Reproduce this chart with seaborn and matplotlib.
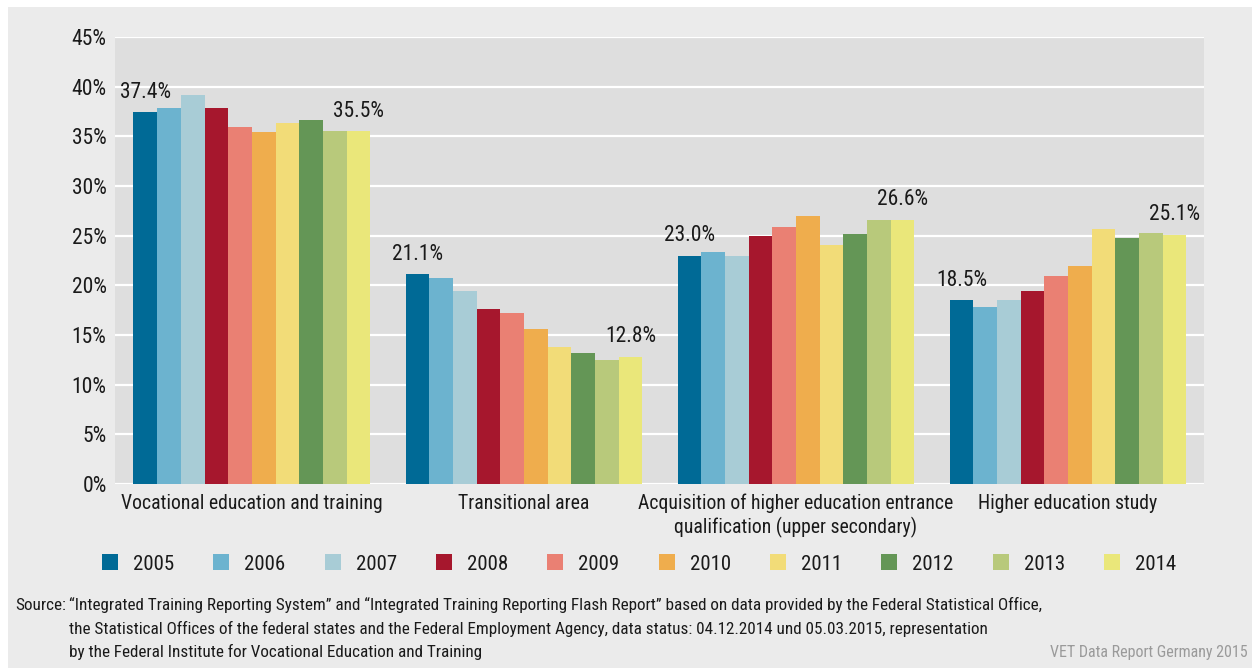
import pandas as pd
import seaborn as sns
import matplotlib.pyplot as plt
from matplotlib.patches import Rectangle

# shares of newcomers per sector, 2005-2014 (%)
years = ['2005', '2006', '2007', '2008', '2009', '2010', '2011', '2012', '2013', '2014']
areas = ['Vocational education and training',
         'Transitional area',
         'Acquisition of higher education entrance\nqualification (upper secondary)',
         'Higher education study']
vet = [37.4, 37.9, 39.2, 37.9, 35.9, 35.4, 36.3, 36.6, 35.5, 35.5]
transitional = [21.1, 20.7, 19.4, 17.6, 17.2, 15.6, 13.8, 13.2, 12.5, 12.8]
entrance_qual = [23.0, 23.4, 23.0, 25.0, 25.9, 27.0, 24.1, 25.2, 26.6, 26.6]
higher_study = [18.5, 17.8, 18.5, 19.4, 20.9, 21.9, 25.7, 24.8, 25.3, 25.1]
y_ticks = [0, 5, 10, 15, 20, 25, 30, 35, 40, 45]
source_lines = [
    '\u201cIntegrated Training Reporting System\u201d and \u201cIntegrated Training Reporting Flash Report\u201d '
    'based on data provided by the Federal Statistical Office,',
    'the Statistical Offices of the federal states and the Federal Employment Agency, '
    'data status: 04.12.2014 und 05.03.2015, representation',
    'by the Federal Institute for Vocational Education and Training',
]

colors = ['#006a96', '#6cb3cf', '#a8ccd6', '#a6172d', '#ea8073',
          '#efad4d', '#f2dc78', '#649656', '#b8c97b', '#eae77a']

rows = []
for area, vals in zip(areas, [vet, transitional, entrance_qual, higher_study]):
    for yr, v in zip(years, vals):
        rows.append({'area': area, 'year': yr, 'share': v})
df = pd.DataFrame(rows)

sns.set_style('white')
plt.rcParams['font.family'] = ['Roboto Condensed', 'DejaVu Sans']
plt.rcParams['font.stretch'] = 'condensed'
txt = '#1a1a1a'

fig = plt.figure(figsize=(12.52, 6.68), dpi=100, facecolor='white')
fig.patches.append(Rectangle((8 / 1252, 0), 1, 661 / 668, transform=fig.transFigure,
                             facecolor='#ebebeb', edgecolor='none', zorder=-10))
ax = fig.add_axes([115 / 1252, 184 / 668, 1089 / 1252, 447 / 668])
ax.set_facecolor('#dedede')

sns.barplot(data=df, x='area', y='share', hue='year', palette=colors,
            width=0.87, saturation=1, linewidth=0, ax=ax, legend=True, zorder=3)

ax.set_ylim(0, 45)
ax.set_xlim(-0.503, 3.5)
ax.set_yticks(y_ticks)
ax.set_yticklabels([f'{t}%' for t in y_ticks])
ax.yaxis.grid(True, color='white', lw=1.6, zorder=0)
ax.set_axisbelow(True)
for s in ax.spines.values():
    s.set_visible(False)
ax.tick_params(axis='y', length=0, pad=6, labelsize=15.5, labelcolor=txt)
ax.tick_params(axis='x', length=0, pad=7, labelsize=14.2, labelcolor=txt)
ax.set_xlabel('')
ax.set_ylabel('')

# value labels on first and last year only
for idx in (0, len(years) - 1):
    cont = ax.containers[idx]
    ax.bar_label(cont, labels=[f'{b.get_height():.1f}%' for b in cont],
                 padding=7, fontsize=15.5, color=txt)

sns.move_legend(ax, 'center', bbox_to_anchor=(639 / 1252, 1 - 564 / 668),
                bbox_transform=fig.transFigure, ncol=10, frameon=False, title=None,
                fontsize=15, handlelength=0.77, handleheight=0.77,
                handletextpad=0.72, columnspacing=1.88)
for t in ax.get_legend().get_texts():
    t.set_color(txt)

fig.text(15 / 1252, 1 - 605 / 668, 'Source:', fontsize=12.3, color=txt, va='center')
for i, line in enumerate(source_lines):
    fig.text(69 / 1252, 1 - (605 + 23.5 * i) / 668, line,
             fontsize=12.3, color=txt, va='center')
fig.text(1248 / 1252, 1 - 652 / 668, 'VET Data Report Germany 2015',
         fontsize=11.5, color='#9a9a9a', ha='right', va='center')

fig.savefig('out.png', dpi=100, facecolor=fig.get_facecolor())
